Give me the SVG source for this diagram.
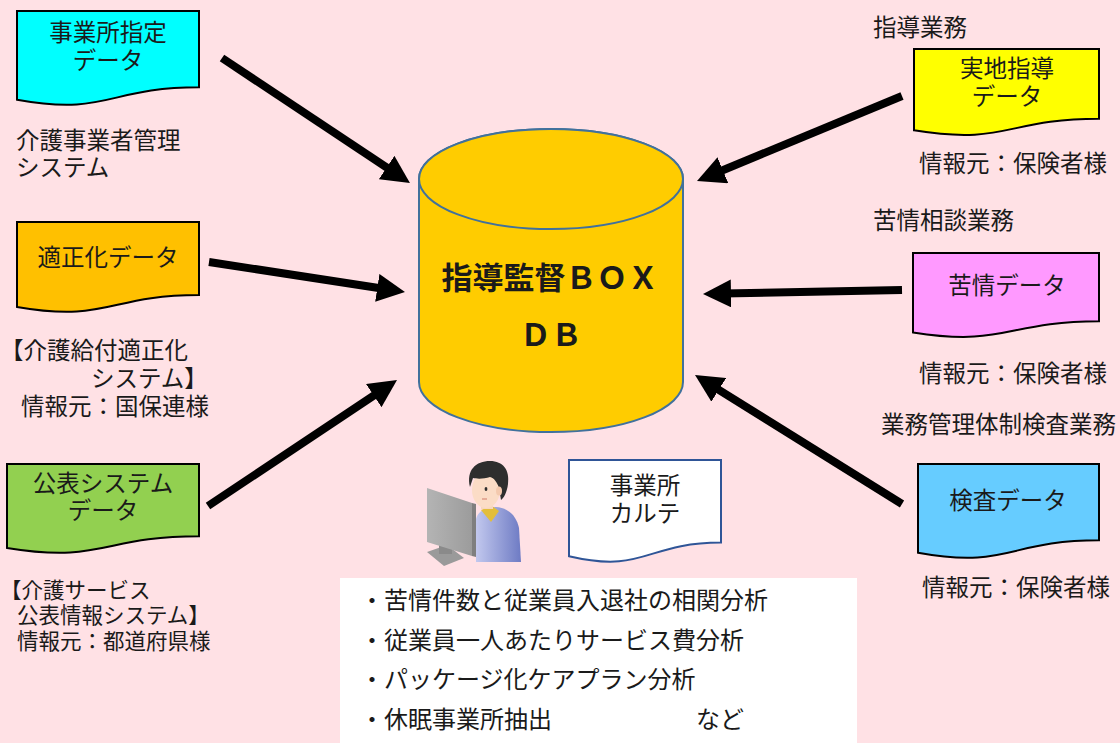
<svg xmlns="http://www.w3.org/2000/svg" width="1120" height="743" viewBox="0 0 1120 743">
  <style>
    text { font-family: "Noto Sans CJK JP", "Noto Sans", sans-serif; fill: #1a1a1a; }
    .lbl { font-size: 23.5px; }
    .sm { font-size: 21.5px; }
    .doc { stroke: #000; stroke-width: 2; }
    .mid { text-anchor: middle; }
    .conn { stroke: #000; stroke-width: 8; fill: none; marker-end: url(#head); }
  </style>
  <defs>
    <marker id="head" markerUnits="userSpaceOnUse" markerWidth="28" markerHeight="28" viewBox="0 0 28 28" refX="8" refY="14" orient="auto">
      <path d="M0,0 L28,14 L0,28 Z" fill="#000"/>
    </marker>
    <linearGradient id="shirt" x1="0" y1="0" x2="1" y2="0">
      <stop offset="0" stop-color="#C2C8EE"/>
      <stop offset="1" stop-color="#6E7BC4"/>
    </linearGradient>
    <linearGradient id="screen" x1="0" y1="0" x2="1" y2="0">
      <stop offset="0" stop-color="#B4B4B4"/>
      <stop offset="1" stop-color="#9C9C9C"/>
    </linearGradient>
  </defs>

  <rect width="1120" height="743" fill="#FFE1E5"/>

  <!-- connectors -->
  <g id="connectors">
    <line class="conn" x1="222" y1="58" x2="393.3" y2="171.9"/>
    <line class="conn" x1="209" y1="262" x2="385.2" y2="289"/>
    <line class="conn" x1="208" y1="506" x2="380.4" y2="391.1"/>
    <line class="conn" x1="902" y1="96" x2="715.5" y2="173.3"/>
    <line class="conn" x1="902" y1="290" x2="723" y2="293.6"/>
    <line class="conn" x1="902" y1="504" x2="712" y2="385.6"/>
  </g>

  <!-- central database -->
  <g id="db">
    <path d="M419,179 L419,382 A132,50 0 0 0 683,382 L683,179 A132,50 0 0 0 419,179 Z" fill="#FFCC00" stroke="#41719C" stroke-width="2"/>
    <ellipse cx="551" cy="179" rx="132" ry="50" fill="#FFCC00" stroke="#41719C" stroke-width="2"/>
    <text x="550" y="289" class="mid" font-size="31" font-weight="bold" fill="#000">指導監督ＢＯＸ</text>
    <text x="551" y="346" class="mid" font-size="31" font-weight="bold" fill="#000">ＤＢ</text>
  </g>

  <!-- left sources -->
  <g id="doc-shitei">
    <path class="doc" fill="#00FFFF" d="M17,11 H199 V87.2 C108,87.2 108,116.2 17,99.7 Z"/>
    <text x="108" y="41" class="lbl mid">事業所指定</text>
    <text x="108" y="69" class="lbl mid">データ</text>
  </g>
  <g id="lbl-shitei">
    <text x="16" y="149" class="lbl">介護事業者管理</text>
    <text x="16" y="176" class="lbl">システム</text>
  </g>

  <g id="doc-tekisei">
    <path class="doc" fill="#FFC000" d="M17,222 H199 V295 C108,295 108,322.8 17,307 Z"/>
    <text x="108" y="266" class="lbl mid">適正化データ</text>
  </g>
  <g id="lbl-tekisei">
    <text x="0" y="359" class="lbl">【介護給付適正化</text>
    <text x="91" y="387" class="lbl">システム】</text>
    <text x="21" y="415" class="lbl">情報元：国保連様</text>
  </g>

  <g id="doc-kohyo">
    <path class="doc" fill="#92D050" d="M7,464 H199 V536.2 C103,536.2 103,563.7 7,548 Z"/>
    <text x="103" y="492" class="lbl mid">公表システム</text>
    <text x="103" y="519" class="lbl mid">データ</text>
  </g>
  <g id="lbl-kohyo">
    <text x="0" y="598" class="sm">【介護サービス</text>
    <text x="17" y="623" class="sm">公表情報システム】</text>
    <text x="17" y="649" class="sm">情報元：都道府県様</text>
  </g>

  <!-- right sources -->
  <g id="doc-jitchi">
    <text x="873" y="36" class="lbl">指導業務</text>
    <path class="doc" fill="#FFFF00" d="M914,49 H1099 V118.8 C1006.5,118.8 1006.5,145.4 914,130.3 Z"/>
    <text x="1007" y="77" class="lbl mid">実地指導</text>
    <text x="1007" y="105" class="lbl mid">データ</text>
    <text x="919" y="172" class="lbl">情報元：保険者様</text>
  </g>

  <g id="doc-kujo">
    <text x="873" y="229" class="lbl">苦情相談業務</text>
    <path class="doc" fill="#FF99FF" d="M913,253 H1099 V321.2 C1006,321.2 1006,347.1 913,332.4 Z"/>
    <text x="1007" y="294" class="lbl mid">苦情データ</text>
    <text x="919" y="382" class="lbl">情報元：保険者様</text>
  </g>

  <g id="doc-kensa">
    <text x="881" y="433" class="lbl">業務管理体制検査業務</text>
    <path class="doc" fill="#66CCFF" d="M918,464 H1099 V540.2 C1008.5,540.2 1008.5,569.2 918,552.7 Z"/>
    <text x="1008" y="509" class="lbl mid">検査データ</text>
    <text x="922" y="596" class="lbl">情報元：保険者様</text>
  </g>

  <!-- operator at workstation -->
  <g id="operator">
    <!-- person -->
    <path d="M476,562 L476,519 C478,511 486,507 496,507 C508,508 516,515 519,528 L521,562 Z" fill="url(#shirt)"/>
    <path d="M481,510 L492,506 L499,511 L491,522 Z" fill="#E3BE3A"/>
    <rect x="481" y="497" width="12" height="12" fill="#F7D6BE"/>
    <ellipse cx="486" cy="490" rx="14" ry="18" fill="#FBDCC6"/>
    <path d="M470,487 C466,470 476,461 490,461 C503,461 510,470 508,484 C507,492 504,498 501,500 L499,488 C497,482 494,478 490,477 C484,479 477,479 473,478 C472,481 471,484 470,487 Z" fill="#2E2E2E"/>
    <ellipse cx="499" cy="491" rx="3" ry="4.5" fill="#F4C9AE"/>
    <ellipse cx="486" cy="489" rx="1.4" ry="2" fill="#2E2E2E"/>
    <path d="M482,499 L487,499" stroke="#D98C7A" stroke-width="1.2"/>
    <!-- monitor -->
    <path d="M427,552 L447,545 L464,558 L444,566 Z" fill="#9A9A9A"/>
    <rect x="439" y="524" width="13" height="30" fill="#8A8A8A"/>
    <path d="M427,488 L472,503 L472,556 L427,542 Z" fill="url(#screen)"/>
    <path d="M472,503 L476,504 L476,557 L472,556 Z" fill="#7F7F7F"/>
  </g>

  <!-- office record sheet -->
  <g id="doc-karte">
    <path d="M569,460 H721 V542.6 C645,542.6 645,574 569,556.2 Z" fill="#FFFFFF" stroke="#2F5597" stroke-width="2"/>
    <text x="645" y="494" class="lbl mid">事業所</text>
    <text x="645" y="522" class="lbl mid">カルテ</text>
  </g>

  <!-- analysis list -->
  <g id="analysis">
    <rect x="340" y="578" width="517" height="170" fill="#FFFFFF"/>
    <text x="360" y="609" font-size="24">・苦情件数と従業員入退社の相関分析</text>
    <text x="360" y="649" font-size="24">・従業員一人あたりサービス費分析</text>
    <text x="360" y="688" font-size="24">・パッケージ化ケアプラン分析</text>
    <text x="360" y="728" font-size="24">・休眠事業所抽出</text>
    <text x="696" y="728" font-size="24">など</text>
  </g>
</svg>
